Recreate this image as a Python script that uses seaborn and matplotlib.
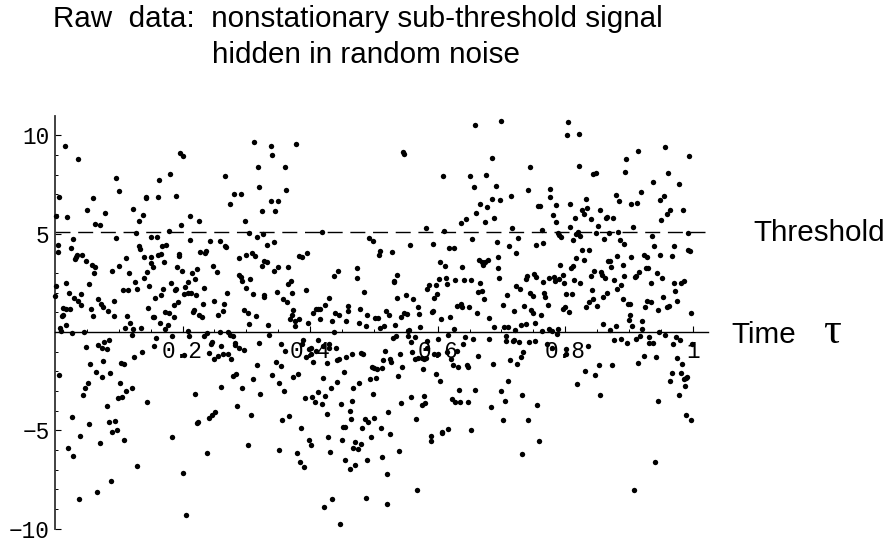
import matplotlib
matplotlib.use('Agg')
import matplotlib.pyplot as plt
import numpy as np
import pandas as pd
import seaborn as sns

# (tau, value) readings, split by part of the plot
above_left = [
    (.015,9.44),(.036,8.78),(.196,9.09),(.201,8.97),(.312,9.64),(.318,8.39),(.096,7.85),(.180,8.05),(.163,7.73),(.266,7.94),
    (.101,7.16),(.320,7.36),(.006,6.87),(.060,6.80),(.143,6.87),(.142,6.79),(.162,6.84),(.190,6.92),(.281,7.01),(.291,7.01),
    (.275,6.50),(.050,6.18),(.079,6.07),(.123,6.26),(.138,5.97),(.001,5.89),(.019,5.84),(.211,5.92),(.325,6.14),(.131,5.65),
    (.063,5.48),(.071,5.43),(.198,5.45),(.226,5.65),(.298,5.63),(.095,4.79),(.029,4.72),(.127,5.01),(.179,5.11),(.150,4.82),
    (.160,4.81),(.305,5.01),(.326,4.97),(.317,4.81),(.212,4.70),(.243,4.62),(.259,4.65),(.004,4.43),(.132,4.35),(.134,4.23),
    (.168,4.38),(.174,4.43),(.267,4.35),(.268,4.30),(.332,4.42),(.025,4.26),(.005,4.08),(.034,3.91),(.033,3.82),(.031,3.71),
    (.043,3.91),(.049,3.59),(.058,3.40),(.063,3.28),(.061,3.01),(.111,3.77),(.140,3.79),(.150,3.81),(.151,3.50),(.154,3.28),
    (.162,3.91),(.167,3.99),(.171,3.54),(.194,3.94),(.195,3.84),(.228,4.09),(.237,4.13),(.235,4.03),(.289,3.76),(.299,3.93),
    (.309,4.04),(.314,3.86),(.328,3.62),(.332,3.57),(.324,3.33),(.100,3.38),(.089,3.10),(.116,2.98),(.144,3.05),(.191,3.32),
    (.199,3.11),(.215,2.98),(.223,3.18),(.248,3.33),(.254,3.06),(.288,2.91),(.292,2.79),(.293,2.61),(.306,2.71),(.126,2.54),
    (.139,2.72),(.147,2.35),(.182,2.50),(.209,2.52),(.219,2.67),(.053,2.42),(.002,2.33),(.018,2.47),(.106,2.12),(.115,2.15),
    (.129,2.18),(.169,2.17),(.166,1.90),(.157,1.71),(.188,2.13),(.189,2.17),(.204,2.27),(.203,1.93),(.208,2.00),(.214,1.96),
    (.221,1.88),(.234,2.23),(.270,1.96),(.300,2.23),(.311,1.95),(.328,1.88),(.327,1.78),(.000,1.81),(.022,2.00),(.030,1.74),
    (.041,1.91),(.036,1.57),(.040,1.35),(.067,1.66),(.072,1.42),(.076,1.27),(.092,1.57),(.083,1.08),(.193,1.51),(.187,1.39),
    (.232,1.40),(.249,1.57),(.265,1.44),(.013,1.20),(.018,1.17),(.023,1.18),(.011,.83),(.013,.86),(.056,1.17),(.059,.83),
    (.093,.81),(.146,1.20),(.153,.78),(.155,.74),(.173,1.00),(.179,.95),(.186,.74),(.217,1.03),(.218,1.12),(.226,.85),
    (.231,.74),(.264,1.08),(.255,.85),(.297,1.12),(.303,.96),(.315,.83),(.113,.83),(.017,.36),(.008,.19),(.010,.07),
    (.110,.22),(.118,.46),(.122,.15),(.135,.22),(.165,.44),(.177,.36),(.173,.14),(.304,.41),(.334,.36),(.208,.05),
]
above_middle = [
    (.339,9.47),(.341,9.02),(.378,9.58),(.361,8.38),(.362,7.24),(.338,6.65),(.350,6.68),(.345,6.13),(.344,4.60),(.343,3.11),
    (.349,3.30),(.366,3.28),(.382,3.87),(.387,3.79),(.395,4.03),(.658,10.54),(.545,9.15),(.548,9.04),(.608,7.95),(.650,7.95),
    (.676,7.97),(.657,7.36),(.667,6.51),(.678,6.33),(.660,6.04),(.645,5.74),(.636,5.53),(.674,5.60),(.581,5.31),(.610,5.11),
    (.419,5.08),(.654,4.75),(.492,4.77),(.498,4.64),(.509,4.13),(.508,3.93),(.528,4.08),(.556,4.42),(.592,4.47),(.618,4.28),
    (.625,4.26),(.603,3.57),(.611,3.33),(.639,3.30),(.665,3.64),(.669,3.54),(.671,3.40),(.674,3.57),(.679,3.64),(.473,3.23),
    (.444,3.10),(.438,2.84),(.474,2.76),(.536,2.89),(.531,2.59),(.532,2.52),(.602,2.71),(.613,2.72),(.627,2.66),(.642,2.66),
    (.652,2.62),(.615,2.45),(.587,2.40),(.584,2.17),(.597,2.40),(.666,2.50),(.663,2.03),(.670,2.08),(.370,2.61),(.365,2.45),
    (.348,2.05),(.394,2.12),(.371,1.96),(.485,2.03),(.536,1.74),(.550,1.88),(.561,1.69),(.594,1.71),(.599,1.95),(.673,1.66),
    (.358,1.69),(.364,1.52),(.430,1.73),(.424,1.37),(.373,1.13),(.372,.85),(.368,.66),(.383,.68),(.377,.58),(.376,.32),
    (.397,.47),(.404,.96),(.409,1.15),(.412,1.17),(.415,1.18),(.416,.66),(.439,.96),(.446,.88),(.435,.56),(.459,1.32),
    (.460,1.07),(.457,.58),(.478,1.17),(.489,.85),(.476,.46),(.488,.29),(.502,.71),(.506,.71),(.519,1.07),(.523,.88),
    (.533,.37),(.510,.22),(.516,.32),(.543,.76),(.547,.95),(.552,.90),(.569,1.25),(.571,.90),(.572,.24),(.555,.12),
    (.553,.07),(.591,1.03),(.593,1.07),(.605,.64),(.620,.74),(.630,1.30),(.637,1.40),(.638,1.27),(.649,1.25),(.661,.98),
    (.680,.71),(.626,.15),(.437,0.0),
]
above_right = [
    (.700,10.73),(.804,10.68),(.803,10.00),(.821,10.08),(.685,8.85),(.745,8.39),(.822,8.44),(.844,8.05),(.849,8.09),(.895,8.80),
    (.914,9.20),(.956,9.41),(.994,8.97),(.894,8.12),(.962,8.07),(.937,7.65),(.978,7.51),(.692,7.41),(.741,7.21),(.776,7.26),
    (.686,6.77),(.698,6.72),(.715,6.92),(.777,6.87),(.879,6.97),(.884,6.65),(.919,7.11),(.904,6.51),(.913,6.55),(.955,6.92),
    (.948,6.70),(.758,6.43),(.761,6.41),(.786,6.48),(.807,6.53),(.832,6.75),(.834,6.31),(.826,6.18),(.830,6.02),(.855,6.18),
    (.781,5.97),(.785,5.58),(.815,5.82),(.840,5.74),(.864,5.80),(.866,5.84),(.875,5.80),(.852,5.41),(.959,5.99),(.965,6.18),
    (.985,6.19),(.951,5.70),(.688,5.77),(.716,5.31),(.763,5.21),(.808,5.35),(.906,5.35),(.788,5.01),(.791,4.91),(.794,4.81),
    (.820,5.06),(.817,4.96),(.813,4.70),(.824,4.89),(.848,5.04),(.869,5.04),(.883,5.09),(.861,4.72),(.886,4.70),(.892,4.45),
    (.936,4.89),(.993,5.01),(.726,4.79),(.693,4.57),(.712,4.37),(.754,4.43),(.766,4.54),(.723,4.04),(.827,4.18),(.837,4.15),
    (.939,4.35),(.970,4.37),(.992,4.15),(.995,4.13),(.694,3.82),(.949,3.91),(.968,3.84),(.924,3.93),(.928,3.81),(.881,3.84),
    (.903,3.82),(.829,3.67),(.817,3.74),(.792,3.43),(.812,3.37),(.809,3.27),(.867,3.60),(.871,3.59),(.872,3.32),(.891,3.40),
    (.695,3.27),(.846,3.10),(.916,3.06),(.926,3.25),(.930,3.27),(.856,3.03),(.858,2.88),(.863,2.72),(.841,2.83),(.751,2.94),
    (.755,2.77),(.740,2.84),(.738,2.67),(.697,2.76),(.774,2.72),(.783,2.77),(.784,2.61),(.791,2.67),(.796,2.89),(.814,2.66),
    (.824,2.47),(.798,2.49),(.765,2.52),(.877,2.64),(.893,2.84),(.909,2.81),(.911,2.84),(.944,3.01),(.952,2.76),(.934,2.49),
    (.971,2.49),(.982,2.50),(.986,2.61),(.723,2.33),(.729,2.17),(.709,1.90),(.745,1.98),(.749,1.83),(.767,2.00),(.769,1.78),
    (.801,1.91),(.810,1.91),(.842,2.15),(.865,1.96),(.860,1.78),(.843,1.69),(.838,1.54),(.882,2.20),(.888,2.37),(.890,1.66),
    (.898,1.42),(.902,1.42),(.928,1.57),(.935,1.52),(.953,1.76),(.973,2.08),(.976,1.59),(.703,1.37),(.736,1.34),(.773,1.37),
    (.833,1.25),(.850,1.30),(.925,1.29),(.960,1.29),(.963,1.32),(.946,1.13),(.719,1.05),(.746,1.10),(.749,.98),(.762,.85),
    (.799,1.29),(.797,1.18),(.806,1.02),(.901,.88),(.997,.98),(.900,.59),(.921,.58),(.689,.25),(.704,.24),(.710,.27),
    (.731,.37),(.739,.42),(.752,.44),(.721,.08),(.764,.05),(.775,.17),(.779,.07),(.788,.17),(.859,.42),(.880,.29),
    (.870,.08),(.905,.29),(.920,.17),
]
below_left = [
    (.026,-.03),(.045,-.02),(.121,-.14),(.158,-.30),(.183,-.20),(.210,-.19),(.233,-.20),(.238,-.03),(.258,.02),(.272,-.02),
    (.275,-.15),(.279,-.19),(.335,-.14),(.048,-.76),(.068,-.66),(.077,-.49),(.085,-.39),(.073,-.83),(.081,-.86),(.156,-.73),
    (.136,-1.00),(.124,-1.25),(.202,-1.15),(.246,-.52),(.245,-.61),(.260,-.71),(.282,-.58),(.283,-.66),(.289,-.83),(.296,-.91),
    (.320,-.54),(.242,-1.05),(.250,-1.35),(.256,-1.20),(.263,-1.12),(.272,-1.13),(.276,-1.37),(.055,-1.62),(.075,-1.47),(.103,-1.59),
    (.108,-1.64),(.064,-2.05),(.074,-2.28),(.086,-2.06),(.007,-2.20),(.051,-2.57),(.047,-2.86),(.044,-3.20),(.102,-2.59),(.120,-2.83),
    (.112,-2.99),(.316,-1.66),(.310,-2.37),(.279,-2.22),(.284,-2.13),(.261,-2.81),(.294,-2.84),(.322,-3.16),(.220,-3.15),(.105,-3.30),
    (.099,-3.38),(.145,-3.57),(.082,-3.74),(.286,-3.76),(.027,-4.33),(.053,-4.70),(.084,-4.57),(.094,-4.52),(.251,-4.09),(.246,-4.20),
    (.241,-4.35),(.224,-4.59),(.222,-4.65),(.307,-4.20),(.090,-5.08),(.098,-4.97),(.039,-5.28),(.108,-5.48),(.070,-5.62),(.184,-5.33),
    (.302,-5.75),(.021,-5.89),(.028,-6.29),(.239,-6.16),(.128,-6.79),(.200,-7.16),(.088,-7.56),(.066,-8.14),(.038,-8.51),(.205,-9.31),
]
below_middle = [
    (.354,-.61),(.360,-.95),(.347,-1.51),(.355,-1.74),(.340,-2.17),(.351,-2.57),(.359,-3.01),(.374,-2.30),(.381,-2.15),(.389,-.39),
    (.388,-.63),(.393,-1.27),(.399,-.86),(.401,-.80),(.402,-1.13),(.405,-1.52),(.410,-.98),(.412,-.42),(.421,-.69),(.430,-.59),
    (.429,-.83),(.440,-.80),(.426,-1.57),(.443,-1.44),(.445,-1.35),(.456,-1.25),(.465,-1.13),(.480,-1.05),(.483,-1.13),(.518,-.96),
    (.515,-1.40),(.526,-1.39),(.527,-1.51),(.541,-1.10),(.497,-1.76),(.501,-1.81),(.505,-1.86),(.512,-1.81),(.544,-1.76),(.538,-2.23),
    (.453,-2.01),(.421,-2.32),(.442,-2.52),(.433,-2.86),(.467,-2.84),(.477,-2.57),(.494,-2.40),(.504,-2.35),(.499,-3.13),(.413,-3.03),
    (.423,-3.23),(.392,-3.37),(.403,-3.32),(.408,-3.55),(.418,-3.65),(.449,-3.67),(.466,-3.52),(.427,-4.15),(.462,-4.01),(.542,-3.60),
    (.522,-4.08),(.367,-4.26),(.356,-4.47),(.464,-4.42),(.486,-4.42),(.491,-4.60),(.501,-4.37),(.452,-4.84),(.454,-4.82),(.482,-4.89),
    (.511,-4.87),(.385,-4.87),(.428,-5.35),(.496,-5.33),(.525,-5.21),(.399,-5.47),(.401,-5.72),(.450,-5.50),(.471,-5.58),(.480,-5.67),
    (.352,-6.01),(.380,-6.16),(.432,-6.11),(.468,-5.91),(.475,-5.97),(.539,-6.04),(.384,-6.60),(.390,-6.87),(.454,-6.53),(.490,-6.53),
    (.513,-6.38),(.470,-6.75),(.462,-6.97),(.520,-7.24),(.567,-8.04),(.434,-8.48),(.487,-8.46),(.422,-8.88),(.521,-8.76),(.447,-9.75),
    (.530,-.29),(.534,-.20),(.553,-.20),(.564,-.27),(.558,-.49),(.583,-.44),(.584,-.80),(.614,-1.02),(.600,-.37),(.595,-1.10),
    (.601,-1.13),(.560,-1.03),(.564,-1.35),(.570,-1.34),(.575,-1.30),(.578,-1.39),(.581,-1.30),(.577,-1.88),(.621,-1.39),(.624,-1.68),
    (.632,-1.78),(.630,-.96),(.640,-.61),(.643,-.27),(.656,-.36),(.680,-.36),(.616,-.14),(.646,-1.68),(.647,-1.76),(.664,-1.20),
    (.598,-2.15),(.604,-2.49),(.559,-3.28),(.578,-3.27),(.634,-2.94),(.659,-2.93),(.622,-3.43),(.628,-3.57),(.635,-3.55),(.648,-3.54),
    (.575,-3.69),(.580,-3.62),(.566,-4.43),(.607,-5.06),(.607,-5.13),(.617,-4.92),(.652,-4.99),(.589,-5.31),(.590,-5.52),
]
below_right = [
    (.708,-.20),(.707,-.44),(.718,-.44),(.720,-.41),(.727,-.52),(.743,-.51),(.753,-.46),(.734,-1.00),(.730,-1.25),(.725,-1.62),
    (.714,-1.40),(.687,-1.64),(.711,-2.49),(.699,-3.01),(.732,-3.18),(.706,-3.50),(.683,-3.79),(.756,-3.69),(.702,-4.45),(.742,-4.45),
    (.759,-5.52),(.733,-6.18),(.787,-.08),(.780,-.83),(.771,-.61),(.801,-.88),(.802,-1.13),(.836,-.73),(.853,-1.69),(.831,-1.98),
    (.847,-2.20),(.819,-2.66),(.854,-3.20),(.874,-1.68),(.876,-.39),(.887,-.36),(.897,-.58),(.911,-.34),(.917,-.19),(.931,-.24),
    (.932,-.56),(.938,-.56),(.947,0.0),(.957,-.14),(.969,-.63),(.974,-.25),(.980,-.42),(.999,-.61),(.923,-1.24),(.915,-1.59),
    (.942,-1.27),(.975,-1.34),(.983,-1.61),(.967,-2.06),(.981,-2.06),(.964,-2.47),(.991,-2.27),(.989,-2.33),(.986,-2.39),(.988,-2.76),
    (.979,-3.18),(.945,-3.52),(.990,-4.21),(.998,-4.48),(.941,-6.62),(.908,-8.02),
]

threshold_level = 5.07
x_major = [0.2, 0.4, 0.6, 0.8, 1.0]
x_labels = ['0.2', '0.4', '0.6', '0.8', '1']
y_major = [-10, -5, 5, 10]
y_labels = ['\u221210', '\u22125', '5', '10']

df = pd.DataFrame(above_left + above_middle + above_right + below_left + below_middle + below_right,
                  columns=['tau', 'value'])

W, H = 886, 542
sns.set_style('white')
plt.rcParams['font.family'] = ['Liberation Sans', 'DejaVu Sans']
plt.rcParams['text.color'] = 'black'
plt.rcParams['xtick.color'] = 'black'
plt.rcParams['ytick.color'] = 'black'
plt.rcParams['axes.edgecolor'] = 'black'

fig = plt.figure(figsize=(W / 100, H / 100), dpi=100)
# axes placed so tau 0..1.024 and value -10..10.98 land where the original has them
ax = fig.add_axes([55 / W, 1 - 528.7 / H, 653 / W, 412.7 / H])
ax.set_xlim(0, 1.024)
ax.set_ylim(-10, 10.98)

sns.scatterplot(data=df, x='tau', y='value', ax=ax, color='black', s=15,
                linewidth=0, clip_on=False, zorder=5)
ax.set_xlabel('')
ax.set_ylabel('')

ax.plot([0, 1.02], [threshold_level, threshold_level], color='black', lw=1.0,
        dashes=(15 / 1.39, 7.7 / 1.39), zorder=2)

for side in ['top', 'right']:
    ax.spines[side].set_visible(False)
ax.spines['bottom'].set_position(('data', 0))
ax.spines['bottom'].set_linewidth(1.0)
ax.spines['left'].set_linewidth(1.3)
ax.spines['left'].set_color('#333333')

ax.set_xticks(x_major)
ax.set_xticklabels(x_labels, family='Liberation Mono', fontsize=16.4)
ax.set_xticks(np.arange(0.05, 1.01, 0.05), minor=True)
ax.set_yticks(y_major)
ax.set_yticklabels(y_labels, family='Liberation Mono', fontsize=16.4)
ax.set_yticks([v for v in range(-9, 11) if v != 0], minor=True)
ax.tick_params(axis='x', which='major', direction='in', length=4.5, width=0.8, pad=5.5, bottom=True)
ax.tick_params(axis='x', which='minor', direction='in', length=2.5, width=0.7, bottom=True)
ax.tick_params(axis='y', which='major', direction='in', length=4.5, width=0.8, pad=4, left=True)
ax.tick_params(axis='y', which='minor', direction='in', length=2.5, width=0.7, left=True)

fig.text(53 / W, 1 - 27 / H, 'Raw  data:  nonstationary sub-threshold signal',
         fontsize=21.3, va='baseline', ha='left')
fig.text(212 / W, 1 - 63 / H, 'hidden in random noise', fontsize=21.3, va='baseline', ha='left')
fig.text(753 / W, 1 - 241 / H, 'Threshold', fontsize=21.3, va='baseline', ha='left')
fig.text(731 / W, 1 - 343 / H, 'Time', fontsize=21.3, va='baseline', ha='left')
fig.text(823 / W, 1 - 343 / H, '\u03c4', fontsize=32, va='baseline', ha='left', family='Liberation Serif')

fig.savefig('out.png', dpi=100)
plt.close(fig)
